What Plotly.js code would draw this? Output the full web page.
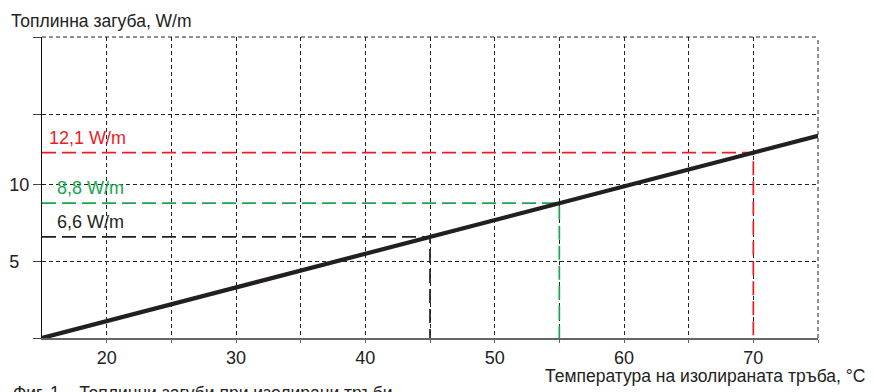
<!DOCTYPE html>
<html><head><meta charset="utf-8">
<script src="https://cdn.plot.ly/plotly-3.0.1.min.js"></script>
<style>html,body{margin:0;padding:0;background:#fff}#chart{width:874px;height:392px}</style>
</head><body><div id="chart"></div>
<script>
// Heat loss line (W/m) vs temperature (°C)
const lineTemps = [15, 75];
const lineLoss = [0, 13.2];
// Reference readings
const refTemps = [45, 55, 70];
const refLoss = [6.6, 8.8, 12.1];
const refLabels = ['6,6 W/m', '8,8 W/m', '12,1 W/m'];
const refColors = ['#231f20', '#1aa650', '#ed1c24'];
const refLabelShift = [13, 13, 5];
// Axis ticks
const xTickVals = [20, 25, 30, 35, 40, 45, 50, 55, 60, 65, 70, 75];
const xTickText = ['20', '', '30', '', '40', '', '50', '', '60', '', '70', ''];
const yTickVals = [0, 5, 10, 14.6, 19.65];
const yTickText = ['', '5\u2007', '10', '', ''];
const xMin = 15, xMax = 75, yMin = 0, yMax = 19.65;

const FONT = '"Liberation Sans", Arial, sans-serif';
const txt = '#222';
const gridColor = '#222';
const gridDash = '4px,3px';

const traces = [];
refTemps.forEach((t, i) => {
  traces.push({
    x: [xMin, t, t], y: [refLoss[i], refLoss[i], yMin],
    mode: 'lines', hoverinfo: 'skip',
    line: {color: refColors[i], width: 1.7, dash: '14px,6px'}
  });
});
traces.push({
  x: lineTemps, y: lineLoss, mode: 'lines', hoverinfo: 'skip',
  line: {color: '#231f20', width: 4.2}
});

const annotations = refTemps.map((t, i) => ({
  x: xMin, y: refLoss[i], xref: 'x', yref: 'y', xanchor: 'left', yanchor: 'bottom',
  xshift: refLabelShift[i], yshift: 3, showarrow: false, text: refLabels[i],
  font: {family: FONT, size: 18, color: refColors[i]}
}));
annotations.push({
  xref: 'paper', yref: 'paper', x: 0, y: 1, xanchor: 'left', yanchor: 'bottom',
  xshift: -33, yshift: 4, showarrow: false, text: 'Топлинна загуба, W/m',
  font: {family: FONT, size: 17.5, color: txt}
});
annotations.push({
  xref: 'paper', yref: 'paper', x: 1, y: 0, xanchor: 'right', yanchor: 'top',
  xshift: 49, yshift: -26, showarrow: false, text: 'Температура на изолираната тръба, °C',
  font: {family: FONT, size: 17.5, color: txt}
});
annotations.push({
  xref: 'paper', yref: 'paper', x: 0, y: 0, xanchor: 'left', yanchor: 'top',
  xshift: -31, yshift: -43, showarrow: false, text: 'Фиг. 1 – Топлинни загуби при изолирани тръби',
  font: {family: FONT, size: 17.5, color: txt}
});

// Dashed frame on top and right (edge grid lines are not drawn by Plotly)
const shapes = [
  {type: 'line', xref: 'paper', yref: 'paper', x0: 0, x1: 1, y0: 1, y1: 1, layer: 'below',
   line: {color: gridColor, width: 1, dash: gridDash}},
  {type: 'line', xref: 'paper', yref: 'paper', x0: 1, x1: 1, y0: 0, y1: 1, layer: 'below',
   line: {color: gridColor, width: 1, dash: gridDash}}
];

const gridCommon = {showgrid: true, gridcolor: gridColor, gridwidth: 1, griddash: gridDash, zeroline: false};

const layout = {
  width: 874, height: 392,
  margin: {l: 42, r: 56, t: 37, b: 54},
  paper_bgcolor: '#fff', plot_bgcolor: '#fff',
  showlegend: false,
  font: {family: FONT, color: txt},
  xaxis: Object.assign({
    range: [xMin, xMax], tickmode: 'array', tickvals: xTickVals, ticktext: xTickText,
    showline: true, linecolor: '#666', linewidth: 1.6,
    ticks: 'outside', ticklen: 3, tickcolor: '#666', tickwidth: 1,
    tickfont: {family: FONT, size: 18, color: txt}, fixedrange: true
  }, gridCommon),
  yaxis: Object.assign({
    range: [yMin, yMax], tickmode: 'array', tickvals: yTickVals, ticktext: yTickText,
    showline: true, linecolor: '#111', linewidth: 1,
    ticks: 'outside', ticklen: 8, tickcolor: '#444', tickwidth: 1,
    tickfont: {family: FONT, size: 18, color: txt}, fixedrange: true
  }, gridCommon),
  shapes: shapes,
  annotations: annotations
};

Plotly.newPlot('chart', traces, layout, {displayModeBar: false, staticPlot: true});
</script></body></html>
